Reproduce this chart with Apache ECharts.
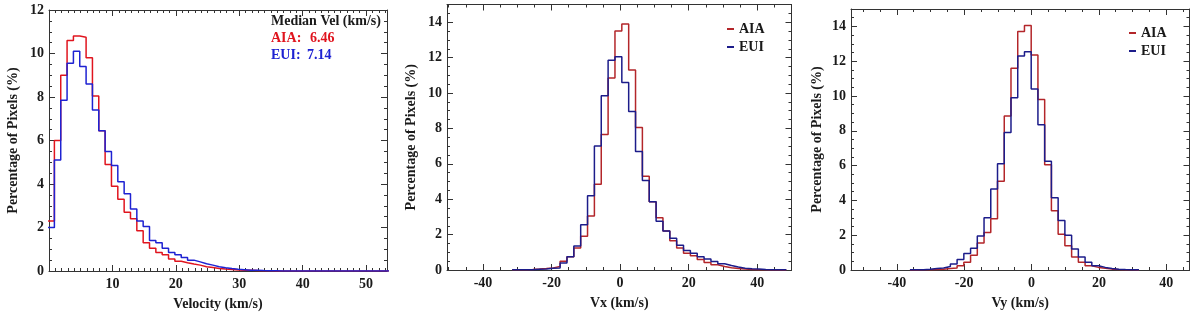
<!DOCTYPE html>
<html><head><meta charset="utf-8">
<script src="https://cdn.jsdelivr.net/npm/echarts@6/dist/echarts.min.js"></script>
<style>html,body{margin:0;padding:0;background:#fff}#c{width:1200px;height:316px}</style>
</head><body><div id="c"></div>
<script>
// ---------- Panel 1: speed histogram (1 km/s bins) ----------
const V_BIN_START = -0.15, V_BIN_WIDTH = 1;
const V_AIA = [2.3, 6.0, 9.0, 10.6, 10.8, 10.75, 9.8, 8.05, 6.45, 4.9, 3.9, 3.3, 2.7, 2.4, 1.85, 1.3, 1.05, 0.85, 0.75, 0.55,
  0.45, 0.38, 0.32, 0.27, 0.2, 0.16, 0.12, 0.09, 0.07, 0.05, 0.04, 0.03, 0.02, 0.015, 0.01, 0.005, 0, 0, 0, 0,
  0, 0, 0, 0, 0, 0, 0, 0, 0, 0, 0, 0, 0, 0, 0];
const V_EUI = [2.0, 5.1, 7.85, 9.55, 10.1, 9.4, 8.6, 7.4, 6.45, 5.5, 4.85, 4.1, 3.55, 2.85, 2.3, 2.05, 1.4, 1.3, 1.05, 0.85,
  0.75, 0.62, 0.5, 0.42, 0.33, 0.27, 0.2, 0.15, 0.11, 0.08, 0.06, 0.04, 0.03, 0.02, 0.015, 0.01, 0.005, 0, 0, 0,
  0, 0, 0, 0, 0, 0, 0, 0, 0, 0, 0, 0, 0, 0, 0];
const V_XTICKS = [10, 20, 30, 40, 50];
const V_YTICKS = [0, 2, 4, 6, 8, 10, 12];
const MEDIAN_TITLE = 'Median Vel (km/s)';
const MEDIAN_AIA = '6.46', MEDIAN_EUI = '7.14';

// ---------- Panel 2: Vx histogram (2 km/s bins) ----------
const VX_BIN_START = -31.5, VX_BIN_WIDTH = 2;
const VX_AIA = [0.01, 0.02, 0.03, 0.05, 0.08, 0.12, 0.2, 0.5, 0.75, 1.25, 1.9, 3.05, 4.85, 7.65, 10.85, 13.5, 13.9, 11.3, 8.05, 5.3,
  3.85, 2.95, 2.2, 1.65, 1.25, 0.95, 0.8, 0.6, 0.42, 0.3, 0.2, 0.13, 0.08, 0.05, 0.03, 0.02, 0.01, 0.005, 0.003, 0.002];
const VX_EUI = [0.01, 0.01, 0.02, 0.04, 0.06, 0.1, 0.12, 0.4, 0.75, 1.35, 2.55, 4.2, 7.0, 9.85, 11.85, 12.05, 10.6, 8.95, 6.7, 5.05,
  3.85, 2.75, 2.2, 1.8, 1.4, 1.1, 0.95, 0.75, 0.62, 0.48, 0.35, 0.25, 0.17, 0.1, 0.07, 0.05, 0.03, 0.02, 0.01, 0.01];

// ---------- Panel 3: Vy histogram (2 km/s bins) ----------
const VY_BIN_START = -36.1, VY_BIN_WIDTH = 2;
const VY_AIA = [0.005, 0.01, 0.02, 0.03, 0.05, 0.08, 0.12, 0.25, 0.45, 0.85, 1.55, 2.15, 2.95, 5.1, 8.85, 11.6, 13.7, 14.05, 12.35, 9.8,
  6.05, 3.4, 2.05, 1.4, 0.75, 0.45, 0.25, 0.15, 0.1, 0.05, 0.03, 0.02, 0.01, 0.005];
const VY_EUI = [0.01, 0.02, 0.04, 0.08, 0.12, 0.2, 0.35, 0.6, 0.95, 1.25, 1.95, 3.0, 4.65, 6.1, 7.9, 9.9, 12.3, 12.55, 10.4, 8.35,
  6.25, 4.15, 2.85, 2.0, 1.2, 0.75, 0.45, 0.25, 0.15, 0.08, 0.05, 0.03, 0.02, 0.01];

const VXY_XTICKS = [-40, -20, 0, 20, 40];
const VXY_YTICKS = [0, 2, 4, 6, 8, 10, 12, 14];
const Y_NAME = 'Percentage of Pixels (%)';
const SERIES_NAMES = ['AIA', 'EUI'];

// ---------- styling ----------
const FONT = '"Liberation Serif", "DejaVu Serif", serif';
const FS = 14;
const INK = '#1a1a1a';
const FRAME = '#333';
const C1 = { AIA: '#e0141e', EUI: '#1e22d2' };
const C2 = { AIA: '#b3262a', EUI: '#1c1c8a' };

function histData(start, width, vals) {
  const d = vals.map((v, i) => [start + i * width, v]);
  d.push([start + vals.length * width, vals[vals.length - 1]]);
  return d;
}
function steps(a, b, s) { const r = []; for (let v = a; v <= b + 1e-9; v += s) r.push(+v.toFixed(6)); return r; }

const panels = [
  { grid: { left: 49, top: 10, width: 338, height: 262 }, x: [0, 53.3], y: [0, 12],
    xt: V_XTICKS, yt: V_YTICKS, xMinor: steps(0, 53, 1), yMinor: steps(0, 12, 0.5),
    xName: 'Velocity (km/s)', yGap: 29, colors: C1,
    aia: histData(V_BIN_START, V_BIN_WIDTH, V_AIA), eui: histData(V_BIN_START, V_BIN_WIDTH, V_EUI) },
  { grid: { left: 447, top: 4.5, width: 344.5, height: 265.5 }, x: [-50.5, 50], y: [0, 15],
    xt: VXY_XTICKS, yt: VXY_YTICKS, xMinor: steps(-50, 50, 5), yMinor: steps(0, 15, 0.5),
    xName: 'Vx (km/s)', yGap: 29, colors: C2,
    aia: histData(VX_BIN_START, VX_BIN_WIDTH, VX_AIA), eui: histData(VX_BIN_START, VX_BIN_WIDTH, VX_EUI) },
  { grid: { left: 851, top: 9, width: 338.5, height: 261 }, x: [-53.6, 46.9], y: [0, 15],
    xt: VXY_XTICKS, yt: VXY_YTICKS, xMinor: steps(-50, 45, 5), yMinor: steps(0, 15, 0.5),
    xName: 'Vy (km/s)', yGap: 27, colors: C2,
    aia: histData(VY_BIN_START, VY_BIN_WIDTH, VY_AIA), eui: histData(VY_BIN_START, VY_BIN_WIDTH, VY_EUI) }
];

const textStyle = { fontFamily: FONT, fontWeight: 'bold', fontSize: FS, color: INK };
const grids = [], xAxes = [], yAxes = [], series = [];

function axisSet(dim, gi, p, range, major, minor) {
  const pos = dim === 'x' ? ['bottom', 'top'] : ['left', 'right'];
  const out = [];
  pos.forEach((position, k) => {
    const maj = {
      gridIndex: gi, type: 'value', min: range[0], max: range[1], position,
      axisLine: { show: true, onZero: false, lineStyle: { color: FRAME, width: 1 } },
      axisTick: { show: true, inside: true, length: 6, customValues: major, lineStyle: { color: FRAME, width: 1 } },
      axisLabel: k === 0 ? Object.assign({ customValues: major, margin: dim === 'x' ? 6 : 5 }, textStyle) : { show: false },
      splitLine: { show: false }
    };
    if (k === 0) {
      maj.name = dim === 'x' ? p.xName : Y_NAME;
      maj.nameLocation = 'middle';
      maj.nameGap = dim === 'x' ? 26 : p.yGap;
      maj.nameTextStyle = Object.assign({}, textStyle);
    }
    out.push(maj);
    out.push({
      gridIndex: gi, type: 'value', min: range[0], max: range[1], position,
      axisLine: { show: false, onZero: false },
      axisTick: { show: true, inside: true, length: 3, customValues: minor, lineStyle: { color: FRAME, width: 1 } },
      axisLabel: { show: false }, splitLine: { show: false }
    });
  });
  return out;
}

panels.forEach((p, gi) => {
  grids.push(Object.assign({ containLabel: false }, p.grid));
  const xi = xAxes.length, yi = yAxes.length;
  xAxes.push(...axisSet('x', gi, p, p.x, p.xt, p.xMinor));
  yAxes.push(...axisSet('y', gi, p, p.y, p.yt, p.yMinor));
  [['AIA', p.aia], ['EUI', p.eui]].forEach(([name, data]) => {
    series.push({
      name, type: 'line', step: 'end', xAxisIndex: xi, yAxisIndex: yi, data,
      showSymbol: false, symbol: 'none', clip: true,
      lineStyle: { color: p.colors[name], width: 1.5 }, itemStyle: { color: p.colors[name] },
      emphasis: { disabled: true }
    });
  });
});

const legendBase = {
  orient: 'vertical', icon: 'rect', itemWidth: 7, itemHeight: 2, itemGap: 4,
  textStyle: Object.assign({ padding: [6, 0, 0, 0] }, textStyle),
  data: SERIES_NAMES.map(n => ({ name: n, itemStyle: { color: C2[n] } })),
  selectedMode: false
};

const labelText = (txt, left, top, color) => ({
  type: 'text', left, top,
  style: { text: txt, fill: color, font: 'bold ' + FS + 'px ' + FONT }
});

const option = {
  animation: false,
  backgroundColor: '#fff',
  grid: grids, xAxis: xAxes, yAxis: yAxes, series,
  legend: [
    Object.assign({ left: 722, top: 17 }, legendBase),
    Object.assign({ left: 1124, top: 21 }, legendBase)
  ],
  graphic: [
    labelText(MEDIAN_TITLE, 271, 14, INK),
    labelText('AIA:', 271, 31, C1.AIA),
    labelText(MEDIAN_AIA, 310, 31, C1.AIA),
    labelText('EUI:', 271, 48, C1.EUI),
    labelText(MEDIAN_EUI, 307, 48, C1.EUI)
  ]
};

const chart = echarts.init(document.getElementById('c'), null, { renderer: 'canvas' });
chart.setOption(option);
</script></body></html>
